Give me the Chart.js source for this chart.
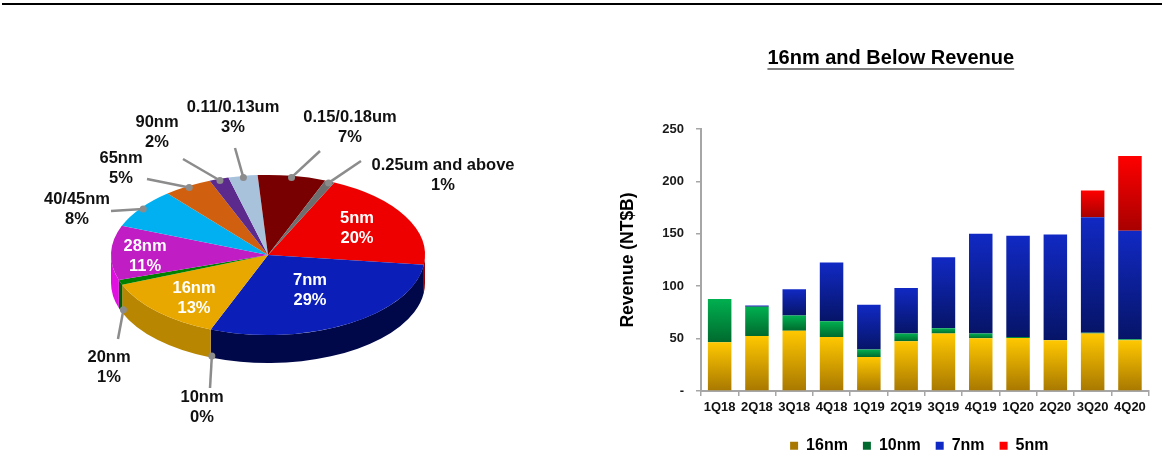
<!DOCTYPE html>
<html>
<head>
<meta charset="utf-8">
<script src="https://cdn.jsdelivr.net/npm/chart.js@4.4.1/dist/chart.umd.min.js"></script>
<style>
  body { margin: 0; background: #fff; width: 1165px; height: 468px; overflow: hidden; position: relative; }
  #rule { position: absolute; left: 2px; top: 3px; width: 1160px; height: 2px; background: #000; }
  #pieChart { position: absolute; left: 0; top: 0; }
  #barChart { position: absolute; left: 600px; top: 0; }
</style>
</head>
<body>
<div id="rule"></div>
<canvas id="pieChart" width="590" height="468"></canvas>
<canvas id="barChart" width="565" height="468"></canvas>
<script>
// revenue share by technology (pie, 4Q20)
const nodes = ['5nm', '7nm', '10nm', '16nm', '20nm', '28nm', '40/45nm', '65nm', '90nm', '0.11/0.13um', '0.15/0.18um', '0.25um and above']
const share = [20, 29, 0, 13, 1, 11, 8, 5, 2, 3, 7, 1]

// 16nm and below revenue, NT$B
const quarters = ['1Q18', '2Q18', '3Q18', '4Q18', '1Q19', '2Q19', '3Q19', '4Q19', '1Q20', '2Q20', '3Q20', '4Q20']
const rev16 = [46.5, 52.5, 57.6, 51.6, 32.5, 47.5, 54.8, 50.3, 50.6, 48.4, 54.8, 48.4]
const rev10 = [41.4, 27.8, 14.4, 15.0, 7.0, 7.3, 5.1, 4.5, 1.0, 0.3, 0.9, 1.0]
const rev7 = [0, 1.2, 25.1, 56.0, 42.7, 43.6, 67.8, 95.2, 96.5, 100.6, 110.2, 103.5]
const rev5 = [0, 0, 0, 0, 0, 0, 0, 0, 0, 0, 25.5, 71.3]
const yTicks = [0, 50, 100, 150, 200, 250]

const FONT = '"Liberation Sans", Arial, sans-serif'

// pie look
const topColors = ['#EE0000', '#0B1EB8', '#008000', '#E8A800', '#008000', '#C01DC4', '#00B0F0', '#D0600F', '#5B2A8C', '#A8C2DC', '#780000', '#6E6E6E']
const sideColors = ['#9A0000', '#00084A', '#006000', '#B88600', '#006000', '#E010E0', '#0088C0', '#A04808', '#3E1C60', '#7F98B0', '#4A0000', '#4A4A4A']
const squash = 0.51
const depth = 28

// where each pie label sits (x,y = first text line; lx,ly = end of leader line)
const pieLabelLayout = {
  '5nm': {inside: true, x: 357, y: 218},
  '7nm': {inside: true, x: 310, y: 280},
  '16nm': {inside: true, x: 194, y: 288},
  '28nm': {inside: true, x: 145, y: 246},
  '10nm': {x: 202, y: 397, lx: 210, ly: 388},
  '20nm': {x: 109, y: 357, lx: 118, ly: 339},
  '40/45nm': {x: 77, y: 199, lx: 111, ly: 211},
  '65nm': {x: 121, y: 158, lx: 147, ly: 179},
  '90nm': {x: 157, y: 122, lx: 183, ly: 159},
  '0.11/0.13um': {x: 233, y: 107, lx: 235, ly: 148},
  '0.15/0.18um': {x: 350, y: 117, lx: 320, ly: 151},
  '0.25um and above': {x: 443, y: 165, lx: 361, ly: 161}
}

// squash the pie into an ellipse and give it a front wall
const pie3d = {
  id: 'pie3d',
  beforeDatasetsDraw(chart) {
    const ctx = chart.ctx
    const arcs = chart.getDatasetMeta(0).data
    const cx = arcs[0].x, cy = arcs[0].y, r = arcs[0].outerRadius
    arcs.forEach((arc, i) => {
      // only the front half (canvas angles 0..PI) shows
      const a0 = Math.max(arc.startAngle, 0)
      const a1 = Math.min(arc.endAngle, Math.PI)
      if (a1 <= a0) return
      ctx.beginPath()
      ctx.ellipse(cx, cy, r, r * squash, 0, a0, a1)
      ctx.ellipse(cx, cy + depth, r, r * squash, 0, a1, a0, true)
      ctx.closePath()
      ctx.fillStyle = sideColors[i]
      ctx.fill()
    })
    ctx.save()
    ctx.translate(cx, cy)
    ctx.scale(1, squash)
    ctx.translate(-cx, -cy)
  },
  afterDatasetsDraw(chart) {
    chart.ctx.restore()
  }
}

const pieLabels = {
  id: 'pieLabels',
  afterDraw(chart) {
    const ctx = chart.ctx
    const arcs = chart.getDatasetMeta(0).data
    ctx.save()
    ctx.font = 'bold 16.5px ' + FONT
    ctx.textAlign = 'center'
    ctx.textBaseline = 'middle'
    arcs.forEach((arc, i) => {
      const lay = pieLabelLayout[nodes[i]]
      if (!lay.inside) {
        const mid = (arc.startAngle + arc.endAngle) / 2
        const px = arc.x + Math.cos(mid) * arc.outerRadius * 0.98
        let py = arc.y + Math.sin(mid) * arc.outerRadius * squash * 0.98
        if (Math.sin(mid) > 0) py += depth
        ctx.strokeStyle = '#8C8C8C'
        ctx.lineWidth = 2.5
        ctx.beginPath()
        ctx.moveTo(px, py)
        ctx.lineTo(lay.lx, lay.ly)
        ctx.stroke()
        ctx.fillStyle = '#8C8C8C'
        ctx.beginPath()
        ctx.arc(px, py, 3.5, 0, 2 * Math.PI)
        ctx.fill()
      }
      ctx.fillStyle = lay.inside ? '#fff' : '#111'
      ctx.fillText(nodes[i], lay.x, lay.y)
      ctx.fillText(share[i] + '%', lay.x, lay.y + 20)
    })
    ctx.restore()
  }
}

new Chart(document.getElementById('pieChart'), {
  type: 'pie',
  data: {
    labels: nodes,
    datasets: [{data: share, backgroundColor: topColors, borderWidth: 0, clip: false}]
  },
  options: {
    responsive: false,
    animation: false,
    events: [],
    rotation: 25,
    layout: {padding: {left: 111, top: 98, right: 165, bottom: 56}},
    plugins: {legend: {display: false}, tooltip: {enabled: false}}
  },
  plugins: [pie3d, pieLabels]
})

// bar chart
const series = [rev16, rev10, rev7, rev5]

// each stacked piece gets its own top-to-bottom shade
function segFill(ds, top, bottom) {
  return function(c) {
    const chart = c.chart
    if (!chart.chartArea || c.dataIndex === undefined || !chart.scales.y) return top
    let base = 0
    for (let k = 0; k < ds; k++) base += series[k][c.dataIndex]
    const v = series[ds][c.dataIndex]
    const y0 = chart.scales.y.getPixelForValue(base + v)
    const y1 = chart.scales.y.getPixelForValue(base)
    if (!(y1 > y0 + 0.5)) return top
    const g = chart.ctx.createLinearGradient(0, y0, 0, y1)
    g.addColorStop(0, top)
    g.addColorStop(1, bottom)
    return g
  }
}

const shiftBoxes = {
  id: 'shiftBoxes',
  afterLayout(chart) {
    chart.titleBlock.left += 16.5
    chart.titleBlock.right += 16.5
    chart.legend.left += 45
    chart.legend.right += 45
  }
}

const underline = {
  id: 'underline',
  afterDraw(chart) {
    const t = chart.titleBlock
    const ctx = chart.ctx
    ctx.save()
    ctx.font = 'bold 20px ' + FONT
    const w = ctx.measureText(t.options.text).width
    const cx = (t.left + t.right) / 2
    const y = t.top + 46 + 12 + 11
    ctx.strokeStyle = '#555'
    ctx.lineWidth = 1.5
    ctx.beginPath()
    ctx.moveTo(cx - w / 2, y)
    ctx.lineTo(cx + w / 2, y)
    ctx.stroke()
    ctx.restore()
  }
}

const axisGray = '#A6A6A6'

new Chart(document.getElementById('barChart'), {
  type: 'bar',
  data: {
    labels: quarters,
    datasets: [
      {label: '16nm', data: rev16, backgroundColor: segFill(0, '#FFC800', '#A87800')},
      {label: '10nm', data: rev10, backgroundColor: segFill(1, '#00B050', '#006A2E')},
      {label: '7nm', data: rev7, backgroundColor: segFill(2, '#1129C4', '#061467')},
      {label: '5nm', data: rev5, backgroundColor: segFill(3, '#FF0000', '#A80000')}
    ]
  },
  options: {
    responsive: false,
    animation: false,
    events: [],
    datasets: {bar: {barPercentage: 0.63, categoryPercentage: 1, borderWidth: 0}},
    layout: {padding: {right: 16.4, bottom: 4.3}},
    scales: {
      x: {
        stacked: true,
        grid: {drawOnChartArea: false, tickLength: 5, color: axisGray, lineWidth: 1.5},
        border: {color: axisGray, width: 2},
        ticks: {font: {family: FONT, size: 13, weight: 'bold'}, color: '#111', padding: 4, maxRotation: 0, autoSkip: false},
        afterFit(s) { s.height = 31.7 }
      },
      y: {
        stacked: true,
        min: 0,
        max: 250,
        afterBuildTicks(s) { s.ticks = yTicks.map(v => ({value: v})) },
        grid: {drawOnChartArea: false, tickLength: 5, color: axisGray, lineWidth: 1.5},
        border: {color: axisGray, width: 2},
        ticks: {
          font: {family: FONT, size: 13, weight: 'bold'},
          color: '#1a1a1a',
          padding: 12,
          callback: v => v === 0 ? '-' : v
        },
        title: {
          display: true,
          text: 'Revenue (NT$B)',
          font: {family: FONT, size: 17.5, weight: 'bold'},
          color: '#000',
          padding: {top: 17.5, bottom: 0}
        },
        afterFit(s) { s.width = 101 }
      }
    },
    plugins: {
      title: {
        display: true,
        text: '16nm and Below Revenue',
        font: {family: FONT, size: 20, weight: 'bold'},
        color: '#000',
        padding: {top: 46, bottom: 59}
      },
      legend: {
        position: 'bottom',
        labels: {boxWidth: 8, boxHeight: 8, padding: 15, font: {family: FONT, size: 16, weight: 'bold'}, color: '#000'}
      },
      tooltip: {enabled: false}
    }
  },
  plugins: [shiftBoxes, underline]
})
</script>
</body>
</html>
